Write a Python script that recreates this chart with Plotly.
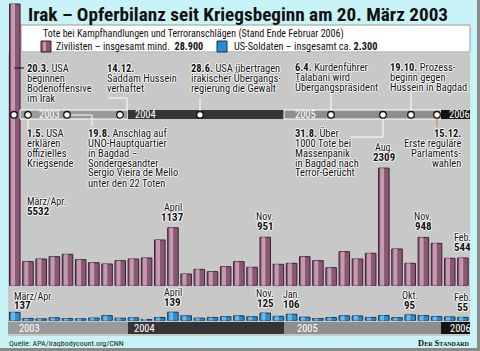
import plotly.graph_objects as go

W, H = 480, 351

# ---------------- data ----------------
months = ["Mär/Apr 03", "Mai 03", "Jun 03", "Jul 03", "Aug 03", "Sep 03", "Okt 03", "Nov 03", "Dez 03",
          "Jan 04", "Feb 04", "Mär 04", "Apr 04", "Mai 04", "Jun 04", "Jul 04", "Aug 04", "Sep 04",
          "Okt 04", "Nov 04", "Dez 04",
          "Jan 05", "Feb 05", "Mär 05", "Apr 05", "Mai 05", "Jun 05", "Jul 05", "Aug 05", "Sep 05",
          "Okt 05", "Nov 05", "Dez 05",
          "Jan 06", "Feb 06"]
civilians = [5532, 472, 524, 570, 616, 511, 452, 426, 492,
             524, 544, 898, 1137, 230, 321, 276, 374, 472, 361, 951, 420,
             439, 570, 492, 354, 668, 524, 636, 2309, 721, 439, 948, 832,
             538, 544]
soldiers = [137, 37, 30, 48, 35, 31, 44, 82, 40,
            47, 20, 52, 139, 80, 42, 54, 66, 80, 64, 125, 72,
            106, 58, 35, 52, 80, 78, 54, 85, 49, 95, 84, 68,
            62, 55]

civ_labels = [(0, "März/Apr.", "5532"), (12, "April", "1137"), (19, "Nov.", "951"),
              (28, "Aug.", "2309"), (31, "Nov.", "948"), (34, "Feb.", "544")]
sol_labels = [(0, "März/Apr.", "137"), (12, "April", "139"), (19, "Nov.", "125"),
              (21, "Jan.", "106"), (30, "Okt.", "95"), (34, "Feb.", "55")]

years = ["2003", "2004", "2005", "2006"]

FONT = "Roboto Condensed, DejaVu Sans Condensed, sans-serif"
HALO = "1px 0 0 #fff, -1px 0 0 #fff, 0 1px 0 #fff, 0 -1px 0 #fff"

def px(x):
    return x / W

def py(y):
    return 1 - y / H

shapes = []
annotations = []

def rect(x0, y0, x1, y1, fill, line=None, lw=0, layer="below"):
    shapes.append(dict(type="rect", xref="paper", yref="paper", x0=px(x0), x1=px(x1),
                       y0=py(y0), y1=py(y1), fillcolor=fill,
                       line=dict(color=line or fill, width=lw), layer=layer))

def seg(points, color="#fff", lw=1, layer="above"):
    path = "M " + " L ".join(f"{px(a)},{py(b)}" for a, b in points)
    shapes.append(dict(type="path", xref="paper", yref="paper", path=path,
                       line=dict(color=color, width=lw), layer=layer))

def dot(x, y, r=3.3):
    shapes.append(dict(type="circle", xref="paper", yref="paper", x0=px(x - r), x1=px(x + r),
                       y0=py(y + r), y1=py(y - r), fillcolor="#fff",
                       line=dict(color="#111", width=1.3), layer="above"))

def txt(x, y, text, size=10, anchor="left", color="#111", halo=True, family=FONT, **kw):
    f = dict(family=family, size=size, color=color)
    if halo:
        f["shadow"] = HALO
    f.update(kw)
    annotations.append(dict(xref="paper", yref="paper", x=px(x), y=py(y), text=text,
                            showarrow=False, xanchor=anchor, yanchor="middle", font=f))

# ---------------- background layout ----------------
rect(8, 53, 470, 336, "#c8c8c8")                 # grey chart area
rect(21, 25, 470, 52, "#ffffff", "#9a9a9a", 1)   # legend box
rect(0, 348, 480, 351, "#8a8a8a")                # frame shadow bottom
rect(477, 0, 480, 351, "#8a8a8a")                # frame shadow right

band_x = [(20, 128), (128, 284), (284, 441), (441, 470)]
band_col = ["#9a9a9a", "#353535", "#8e8e8e", "#141414"]
for (a, b), c in zip(band_x, band_col):
    light = c in ("#9a9a9a", "#8e8e8e")
    rect(a, 110, b, 119, c, "#ffffff" if light else c, 1 if light else 0, layer="above")
bot_x = [(8, 128), (128, 284), (284, 441), (441, 470)]
for (a, b), c in zip(bot_x, band_col):
    rect(a, 322, b, 334, c, layer="above")

top_year_x = [37, 133, 293, 447]
bot_year_x = [17, 132, 295, 448]
for yr, xa, xb in zip(years, top_year_x, bot_year_x):
    txt(xa, 114.8, yr, size=10.5, color="#fff", halo=False)
    txt(xb, 328.5, yr, size=10.5, color="#fff", halo=False)

# event connector lines and dots
seg([(14, 68), (24, 68)], color="#111")
seg([(28, 119), (28, 128)])
seg([(67, 115), (92, 115), (92, 126)])
seg([(108, 98), (127, 98), (127, 110)])
seg([(200, 98), (200, 112)])
seg([(331, 93), (331, 112)])
seg([(411, 93), (411, 112)])
seg([(383, 118), (383, 137), (351, 137)])
seg([(437, 118), (437, 127)], color="#e07a30")
for xd in [14, 28, 67, 120, 200, 331, 383, 411, 437]:
    dot(xd, 114.8)

events = [
    (25, 68, "left", ["<b>20.3.</b> USA", "beginnen", "Bodenoffensive", "im Irak"]),
    (105, 68, "left", ["<b>14.12.</b>", "Saddam Hussein", "verhaftet"]),
    (189, 68, "left", ["<b>28.6.</b> USA übertragen", "irakischer Übergangs-", "regierung die Gewalt"]),
    (293, 67, "left", ["<b>6.4.</b> Kurdenführer", "Talabani wird", "Übergangspräsident"]),
    (388, 67, "left", ["<b>19.10.</b> Prozess-", "beginn gegen", "Hussein in Bagdad"]),
    (25, 133, "left", ["<b>1.5.</b> USA", "erklären", "offizielles", "Kriegsende"]),
    (86, 133, "left", ["<b>19.8.</b> Anschlag auf", "UNO-Hauptquartier", "in Bagdad –",
                        "Sondergesandter", "Sergio Vieira de Mello", "unter den 22 Toten"]),
    (293, 133, "left", ["<b>31.8.</b> Über", "1000 Tote bei", "Massenpanik", "in Bagdad nach",
                         "Terror-Gerücht"]),
    (463, 133, "right", ["<b>15.12.</b>", "Erste reguläre", "Parlaments-", "wahlen"]),
]
for x, y0, anc, lines in events:
    for k, line in enumerate(lines):
        txt(x, y0 + 10 * k, line, size=10.5, anchor=anc)

# ---------------- title & legend ----------------
txt(26, 14.5, "<b>Irak – Opferbilanz seit Kriegsbeginn am 20. März 2003</b>", size=19.2,
    halo=False, color="#111")
txt(41, 34.5, "Tote bei Kampfhandlungen und Terroranschlägen (Stand Ende Februar 2006)",
    size=10, halo=False)
rect(41, 41, 51, 52, "#8c5675", "#3b2233", 1, layer="above")
rect(43, 42, 46, 51, "#c29bb0", layer="above")
txt(54, 46.5, "Zivilisten – insgesamt mind.  <b>28.900</b>", size=10.2, halo=False)
rect(217, 41, 227, 52, "#2a8bd0", "#1b3550", 1, layer="above")
txt(232, 46.5, "US-Soldaten – insgesamt ca. <b>2.300</b>", size=10.3, halo=False)

txt(7, 343, "Quelle: APA/Iraqbodycount.org/CNN", size=8, halo=False, color="#222")
txt(472, 342.5, "<b>Der Standard</b>", size=8.5, anchor="right", halo=False,
    family="Liberation Serif, DejaVu Serif, serif", variant="small-caps")

# ---------------- bars ----------------
fig = go.Figure()
fig.add_trace(go.Bar(x=months, y=civilians, width=0.8, offset=-0.4,
                     marker=dict(color="#8c5675", line=dict(color="#3b2233", width=1)),
                     xaxis="x", yaxis="y", hoverinfo="x+y"))
fig.add_trace(go.Bar(x=months, y=civilians, width=0.3, offset=-0.28,
                     marker=dict(color="#c29bb0", line=dict(width=0)),
                     xaxis="x", yaxis="y", hoverinfo="skip"))
fig.add_trace(go.Bar(x=months, y=soldiers, width=0.8, offset=-0.4,
                     marker=dict(color="#2a8bd0", line=dict(color="#1b3550", width=1)),
                     xaxis="x2", yaxis="y2", hoverinfo="x+y"))
fig.add_trace(go.Bar(x=months, y=soldiers, width=0.3, offset=-0.28,
                     marker=dict(color="#66b8ea", line=dict(width=0)),
                     xaxis="x2", yaxis="y2", hoverinfo="skip"))

x0c, step = 14.8, 13.18
xr = [(0 - x0c) / step, (W - x0c) / step]
base_civ, k_civ = 285.7, 19.64
base_sol, k_sol = 320.7, 16.4
sol_h = 20.7

def lab(xref, yref, xv, yv, text, size, yshift):
    annotations.append(dict(xref=xref, yref=yref, x=xv, y=yv, text=text, showarrow=False,
                            xanchor="center", yanchor="bottom", yshift=yshift,
                            font=dict(family=FONT, size=size, color="#111", shadow=HALO)))

for i, m, v in civ_labels:
    if i == 0:
        txt(25, 201, m, size=10)
        txt(25, 211, f"<b>{v}</b>", size=11)
        continue
    lab("x", "y", months[i], civilians[i], m, 10, 13)
    lab("x", "y", months[i], civilians[i], f"<b>{v}</b>", 11, 2)
for i, m, v in sol_labels:
    if i == 0:
        txt(12, 296, m, size=10)
        txt(12, 305, f"<b>{v}</b>", size=11)
        continue
    lab("x2", "y2", months[i], soldiers[i], m, 10, 12)
    lab("x2", "y2", months[i], soldiers[i], f"<b>{v}</b>", 11, 1)

ax_common = dict(showgrid=False, zeroline=False, showline=False, showticklabels=False,
                 ticks="", fixedrange=True)
fig.update_layout(
    width=W, height=H, autosize=False,
    margin=dict(l=0, r=0, t=0, b=0, pad=0),
    paper_bgcolor="#c8f4f7", plot_bgcolor="rgba(0,0,0,0)",
    barmode="overlay", showlegend=False,
    xaxis=dict(type="category", categoryorder="array", categoryarray=months,
               range=xr, domain=[0, 1], anchor="y", **ax_common),
    yaxis=dict(range=[0, base_civ * k_civ], domain=[py(base_civ), 1], anchor="x", **ax_common),
    xaxis2=dict(type="category", categoryorder="array", categoryarray=months,
                range=xr, domain=[0, 1], anchor="y2", matches="x", **ax_common),
    yaxis2=dict(range=[0, sol_h * k_sol], domain=[py(base_sol), py(base_sol - sol_h)],
                anchor="x2", **ax_common),
    shapes=shapes, annotations=annotations,
    font=dict(family=FONT),
)

fig.write_html("out.html", config={"displayModeBar": False})
